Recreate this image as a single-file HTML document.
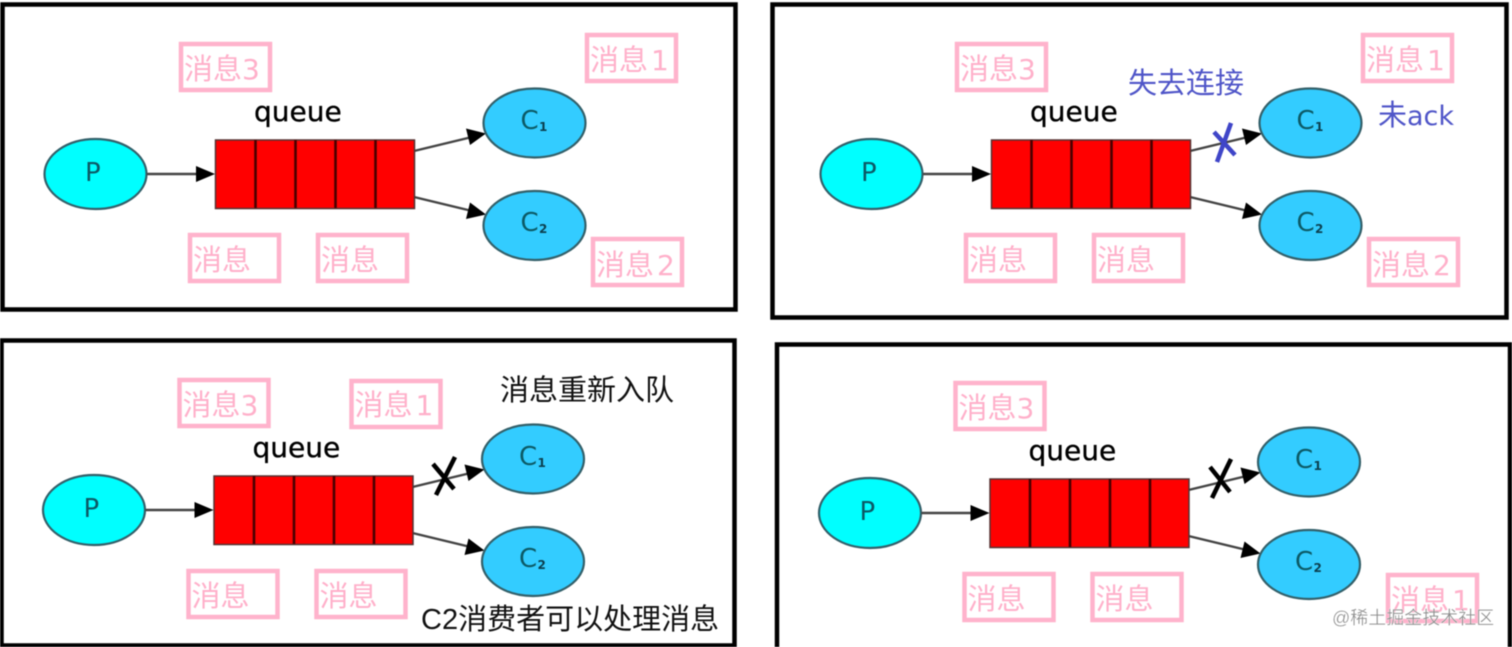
<!DOCTYPE html>
<html><head><meta charset="utf-8"><style>
html,body{margin:0;padding:0;background:#fff;width:1512px;height:647px;overflow:hidden}
svg{display:block;filter:blur(.6px)}
.p rect{fill:#fff;stroke:#ffb3cc;stroke-width:4.5}
.p text{fill:#ffb0ca;font:29px "Noto Sans CJK SC","WenQuanYi Zen Hei",sans-serif;font-weight:400}
.p tspan{font-family:"DejaVu Sans",sans-serif;font-size:28px}
.n{font-family:"DejaVu Sans",sans-serif;fill:#0c5a66;font-size:26px}
.s{font-family:"DejaVu Sans",sans-serif;fill:#0c4050;font-size:12px;font-weight:bold}
.q{font-family:"DejaVu Sans",sans-serif;font-size:28px;fill:#000;stroke:#000;stroke-width:.35}
.c{font-family:"Liberation Sans","Noto Sans CJK SC",sans-serif;font-size:29px;stroke-width:.3}
.e{stroke:#33606a;stroke-width:2.2}
.l{stroke:#444;stroke-width:2.4;fill:none}
.d{stroke:#4a0000;stroke-width:2.6}
</style></head><body>
<svg width="1512" height="647" viewBox="0 0 1512 647" xmlns="http://www.w3.org/2000/svg">
<rect x="0" y="0" width="1512" height="647" fill="#fff"/>
<defs>
<g id="base">
<ellipse class="e" cx="95.500" cy="174" rx="51" ry="35" fill="#00ffff"/>
<path class="l" d="M147 174H200M414 151L470 137.500M414 197L470 210.500"/>
<path d="M215 174L196 166V182ZM486 133.500L466 128.500L470 145ZM486 214.500L470 202.500L466 219Z" fill="#000"/>
<rect x="215.500" y="140" width="199" height="68.500" fill="#ff0000" stroke="#553333" stroke-width="1.500"/>
<path class="d" d="M255.500 140V208M295.500 140V208M335.500 140V208M375.500 140V208"/>
<ellipse class="e" cx="534.500" cy="123" rx="51" ry="34.500" fill="#33ccff"/>
<ellipse class="e" cx="534.500" cy="225.500" rx="51" ry="34.500" fill="#33ccff"/>
</g>
</defs>
<!-- panel frames -->
<rect x="2.500" y="4.500" width="733" height="305" fill="#fff" stroke="#000" stroke-width="4.500"/>
<rect x="772.500" y="4.500" width="734" height="313" fill="#fff" stroke="#000" stroke-width="4.500"/>
<rect x="1.500" y="340.500" width="733" height="305" fill="#fff" stroke="#000" stroke-width="4.500"/>
<rect x="777" y="344.500" width="733" height="305" fill="#fff" stroke="#000" stroke-width="4.500"/>

<!-- panel 1 -->
<g>
<use href="#base"/>
<text class="q" x="254" y="121">queue</text>
<text class="n" x="85" y="181">P</text><text class="n" x="520.500" y="129">C</text><text class="s" x="539" y="131">1</text>
<text class="n" x="520.500" y="231">C</text><text class="s" x="539" y="233">2</text>
<g class="p">
<rect x="181" y="44" width="89" height="46"/><text x="184" y="79">消息<tspan>3</tspan></text>
<rect x="190" y="235" width="89" height="46"/><text x="193" y="270">消息</text>
<rect x="318" y="235" width="89" height="46"/><text x="321" y="270">消息</text>
<rect x="587" y="35" width="89" height="46"/><text x="590" y="70">消息<tspan dx="3">1</tspan></text>
<rect x="593" y="239" width="89" height="46"/><text x="596" y="275">消息<tspan dx="3">2</tspan></text>
</g>
</g>

<!-- panel 2 -->
<g transform="translate(776,0)">
<use href="#base"/>
<text class="q" x="254" y="121">queue</text>
<text class="n" x="85" y="181">P</text><text class="n" x="520.500" y="129">C</text><text class="s" x="539" y="131">1</text>
<text class="n" x="520.500" y="231">C</text><text class="s" x="539" y="233">2</text>
<g class="p">
<rect x="181" y="44" width="89" height="46"/><text x="184" y="79">消息<tspan>3</tspan></text>
<rect x="190" y="235" width="89" height="46"/><text x="193" y="270">消息</text>
<rect x="318" y="235" width="89" height="46"/><text x="321" y="270">消息</text>
<rect x="587" y="35" width="89" height="46"/><text x="590" y="70">消息<tspan dx="3">1</tspan></text>
<rect x="593" y="239" width="89" height="46"/><text x="596" y="275">消息<tspan dx="3">2</tspan></text>
</g>
</g>
<text class="c" x="1128" y="93" fill="#4f55c8">失去连接</text>
<text class="c" x="1378" y="125" fill="#4f55c8"><tspan>未</tspan><tspan font-family="'DejaVu Sans',sans-serif" font-size="27">ack</tspan></text>
<path d="M1214 132L1235 155M1231 123L1217 162" stroke="#3f45c8" stroke-width="4.500" fill="none"/>

<!-- panel 3 -->
<g transform="translate(-1.500,336)">
<use href="#base"/>
<text class="q" x="254" y="121">queue</text>
<text class="n" x="85" y="181">P</text><text class="n" x="520.500" y="129">C</text><text class="s" x="539" y="131">1</text>
<text class="n" x="520.500" y="231">C</text><text class="s" x="539" y="233">2</text>
<g class="p">
<rect x="181" y="44" width="89" height="46"/><text x="184" y="79">消息<tspan>3</tspan></text>
<rect x="190" y="235" width="89" height="46"/><text x="193" y="270">消息</text>
<rect x="318" y="235" width="89" height="46"/><text x="321" y="270">消息</text>
<rect x="353" y="45" width="89" height="46"/><text x="356" y="79">消息<tspan dx="3">1</tspan></text>
</g>
</g>
<text class="c" x="500" y="400" fill="#111">消息重新入队</text>
<text class="c" x="421" y="629" fill="#111">C2消费者可以处理消息</text>
<path d="M433 464L454 489M455 457L436 495" stroke="#000" stroke-width="4.500" fill="none"/>

<!-- panel 4 -->
<g transform="translate(774.500,339)">
<use href="#base"/>
<text class="q" x="254" y="121">queue</text>
<text class="n" x="85" y="181">P</text><text class="n" x="520.500" y="129">C</text><text class="s" x="539" y="131">1</text>
<text class="n" x="520.500" y="231">C</text><text class="s" x="539" y="233">2</text>
<g class="p">
<rect x="181" y="44" width="89" height="46"/><text x="184" y="79">消息<tspan>3</tspan></text>
<rect x="190" y="235" width="89" height="46"/><text x="193" y="270">消息</text>
<rect x="318" y="235" width="89" height="46"/><text x="321" y="270">消息</text>
<rect x="613.500" y="236" width="89" height="46"/><text x="616.500" y="271">消息<tspan dx="3">1</tspan></text>
</g>
</g>
<path d="M1210 467L1230 492M1231 459L1212 498" stroke="#000" stroke-width="4.500" fill="none"/>

<text x="1332" y="624" font-family="'Liberation Sans','Noto Sans CJK SC',sans-serif" font-size="18" fill="#8a8a8a" stroke="#fff" stroke-width="0.300">@稀土掘金技术社区</text>
</svg>
</body></html>
